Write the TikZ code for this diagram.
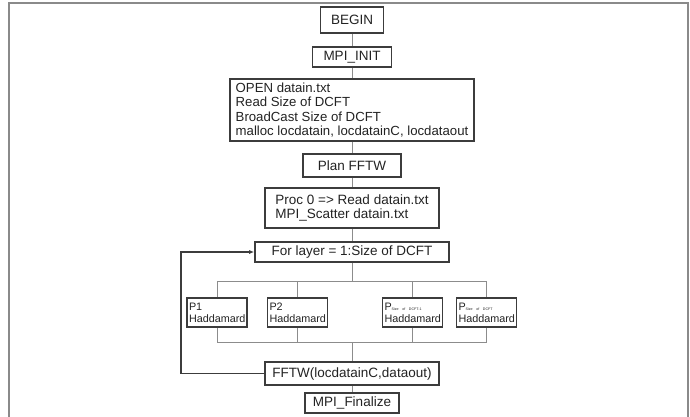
\documentclass[tikz,border=0pt]{standalone}
\usepackage{fontspec}
\setmainfont{Liberation Sans}
\usetikzlibrary{arrows.meta}
\definecolor{boxc}{HTML}{3C3C3C}
\definecolor{linec}{HTML}{8C8C8C}
\definecolor{framec}{HTML}{8A8A8A}
\definecolor{txtc}{HTML}{222222}
\begin{document}
\begin{tikzpicture}[x=1pt,y=-1pt,
  box/.style={draw=boxc, line width=1.6pt, inner sep=0pt, text=txtc, font=\fontsize{13.5}{14.3}\selectfont},
  pbox/.style={draw=boxc, line width=1.6pt, minimum width=60pt, minimum height=29pt, inner sep=0pt, align=left, text width=56pt, text=txtc, font=\fontsize{10.8}{12.2}\selectfont},
  conn/.style={draw=linec, line width=1pt},
  loopl/.style={draw=boxc, line width=1.3pt}]
\useasboundingbox (0,0) rectangle (690,416);
\draw[framec, line width=2pt] (9,417) -- (9,3) -- (688,3) -- (688,417);

\node[box, minimum width=63pt, minimum height=26pt] (begin) at (352,20) {BEGIN};
\node[box, minimum width=79pt, minimum height=20pt] (init) at (352,57) {MPI\_INIT};
\node[box, minimum width=244pt, minimum height=62pt, align=left, font=\fontsize{13.2}{14.3}\selectfont] (open) at (352,110)
  {OPEN datain.txt\\Read Size of DCFT\\BroadCast Size of DCFT\\malloc locdatain, locdatainC, locdataout};
\node[box, minimum width=98pt, minimum height=23pt] (plan) at (352,165.5) {Plan FFTW};
\node[box, minimum width=174pt, minimum height=40pt, align=left] (proc) at (352,208)
  {Proc 0 => Read datain.txt\\MPI\_Scatter datain.txt};
\node[box, minimum width=194pt, minimum height=20pt] (loop) at (352,252) {For layer = 1:Size of DCFT};

\node[pbox] (p1) at (217,312.5) {P1\\Haddamard};
\node[pbox] (p2) at (297.5,312.5) {P2\\Haddamard};
\node[pbox] (p3) at (412.5,312.5) {P{\fontsize{3.6}{4}\selectfont Size of DCFT-1}\\Haddamard};
\node[pbox] (p4) at (486.5,312.5) {P{\fontsize{3.6}{4}\selectfont Size of DCFT}\\Haddamard};

\node[box, minimum width=174pt, minimum height=23pt] (fftw) at (352,373.5) {FFTW(locdatainC,dataout)};
\node[box, minimum width=94pt, minimum height=20pt] (fin) at (352,403) {MPI\_Finalize};

\coordinate (bt) at (352,281);
\coordinate (bb) at (352,342);
\coordinate (lx) at (181,300);

\draw[conn] (begin) -- (init);
\draw[conn] (init) -- (open);
\draw[conn] (open) -- (plan);
\draw[conn] (plan) -- (proc);
\draw[conn] (proc) -- (loop);
\draw[conn] (loop.south) -- (bt);
\draw[conn] (p1.north |- bt) -- (p4.north |- bt);
\draw[conn] (p1.south |- bb) -- (p4.south |- bb);
\foreach \p in {p1,p2,p3,p4}{
  \draw[conn] (\p.north |- bt) -- (\p.north);
  \draw[conn] (\p.south) -- (\p.south |- bb);
}
\draw[conn] (bb) -- (fftw.north);
\draw[conn] (fftw) -- (fin);
\draw[loopl, -{Latex[length=5pt,width=4pt]}] (fftw.west) -- (fftw.west -| lx) -- (lx |- loop.west) -- (loop.west);
\end{tikzpicture}
\end{document}
